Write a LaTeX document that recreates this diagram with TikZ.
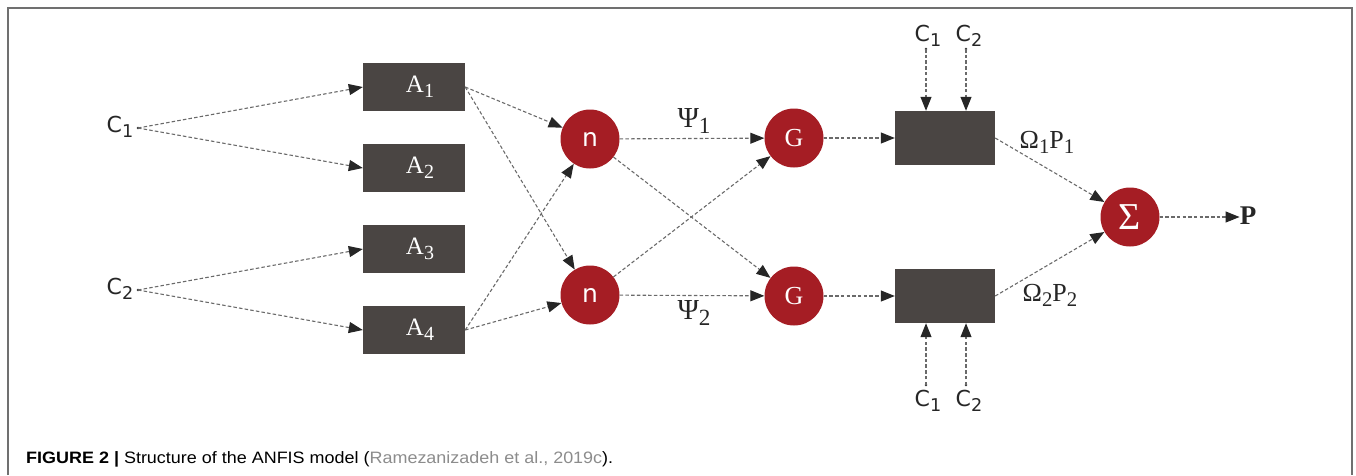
\documentclass[tikz,border=0pt]{standalone}
\usepackage{fontspec}
\usepackage{graphicx}
\usetikzlibrary{arrows.meta}
\newfontfamily\csans{DejaVu Sans}
\newfontfamily\cser{Liberation Serif}
\newfontfamily\capf{Liberation Sans}
\definecolor{boxgray}{HTML}{4A4543}
\definecolor{cred}{HTML}{A51D24}
\definecolor{linegray}{HTML}{6A6A6A}
\definecolor{framegray}{HTML}{707070}
\definecolor{citegray}{HTML}{8C8C8C}
\newcommand\subn[1]{\raisebox{-0.4ex}{\scalebox{0.8}{#1}}}
\tikzset{
  abox/.style={fill=boxgray, minimum width=102pt, minimum height=48pt, inner sep=0pt, text=white, font=\fontsize{25}{25}\cser},
  bbox/.style={fill=boxgray, minimum width=100pt, minimum height=54pt, inner sep=0pt},
  rc/.style={circle, fill=cred, minimum size=59pt, inner sep=0pt, text=white},
  dl/.style={draw=linegray, line width=1.1pt, dash pattern=on 3.5pt off 2.2pt, -{Triangle[length=14pt,width=11pt,color=black!85]}},
  clab/.style={font=\fontsize{22}{22}\csans, text=black!85, inner sep=0pt},
  glab/.style={font=\fontsize{26}{26}\cser, text=black!85, inner sep=0pt},
  sdot/.style={fill=black!80}
}
\begin{document}
\begin{tikzpicture}[x=1pt,y=-1pt]
\useasboundingbox (0,0) rectangle (1356,475);
% frame
\draw[framegray, line width=1.5pt] (8,475) -- (8,8) -- (1352,8) -- (1352,475);
% left inputs
\node[clab] (C1l) at (120,127) {C\subn{1}};
\node[clab] (C2l) at (120,289) {C\subn{2}};
\coordinate (c1) at (138,128);
\coordinate (c2) at (138,290);
\fill[sdot] (c1) circle (1.4);
\fill[sdot] (c2) circle (1.4);
% A boxes
\node[abox] (A1) at (414,87) {\hspace*{12pt}A\subn{1}};
\node[abox] (A2) at (414,168) {\hspace*{12pt}A\subn{2}};
\node[abox] (A3) at (414,249) {\hspace*{12pt}A\subn{3}};
\node[abox] (A4) at (414,330) {\hspace*{12pt}A\subn{4}};
% circles
\node[rc, font=\fontsize{25}{25}\csans] (n1) at (590,139) {n};
\node[rc, font=\fontsize{25}{25}\csans] (n2) at (590,295) {n};
\node[rc, font=\fontsize{26}{26}\cser] (G1) at (794,138) {G};
\node[rc, font=\fontsize{26}{26}\cser] (G2) at (794,296) {G};
\node[rc, font=\fontsize{38}{38}\cser] (S) at (1130,217) {Σ};
% B boxes
\node[bbox] (B1) at (945,138) {};
\node[bbox] (B2) at (945,296) {};
% top and bottom inputs
\node[clab] (t1l) at (928,36) {C\subn{1}};
\node[clab] (t2l) at (969,36) {C\subn{2}};
\node[clab] (b1l) at (928,401) {C\subn{1}};
\node[clab] (b2l) at (969,401) {C\subn{2}};
\coordinate (t1) at (926,49);
\coordinate (t2) at (966,49);
\coordinate (b1) at (926,385);
\coordinate (b2) at (966,385);
\foreach \p in {t1,t2,b1,b2} \fill[sdot] (\p) circle (1.4);
% output
\node[glab, font=\fontsize{27}{27}\cser\bfseries] (P) at (1248,216) {P};
% labels
\node[glab, font=\fontsize{29}{29}\cser] (psi1) at (694,121) {Ψ\subn{1}};
\node[glab, font=\fontsize{29}{29}\cser] (psi2) at (694,313) {Ψ\subn{2}};
\node[glab] (o1) at (1047,142) {Ω\subn{1}P\subn{1}};
\node[glab] (o2) at (1050,295) {Ω\subn{2}P\subn{2}};
% connectors
\draw[dl] (c1) -- (A1.west);
\draw[dl] (c1) -- (A2.west);
\draw[dl] (c2) -- (A3.west);
\draw[dl] (c2) -- (A4.west);
\draw[dl] (A1.east) -- (n1);
\draw[dl] (A1.east) -- (n2);
\draw[dl] (A4.east) -- (n1);
\draw[dl] (A4.east) -- (n2);
\draw[dl] (n1) -- (G1);
\draw[dl] (n1) -- (G2);
\draw[dl] (n2) -- (G1);
\draw[dl] (n2) -- (G2);
\draw[dl] (G1) -- (B1.west);
\draw[dl] (G2) -- (B2.west);
\draw[dl] (t1) -- (t1 |- B1.north);
\draw[dl] (t2) -- (t2 |- B1.north);
\draw[dl] (b1) -- (b1 |- B2.south);
\draw[dl] (b2) -- (b2 |- B2.south);
\draw[dl] (B1.east) -- (S);
\draw[dl] (B2.east) -- (S);
\draw[dl] (S) -- (S -| P.west);
% caption
\node[anchor=base west, inner sep=0pt, font=\fontsize{16.5}{16.5}\capf] (cap) at (26,463)
  {\resizebox{587pt}{\height}{\textbf{FIGURE 2 |} Structure of the ANFIS model (\textcolor{citegray}{Ramezanizadeh et al., 2019c}).}};
\end{tikzpicture}
\end{document}
